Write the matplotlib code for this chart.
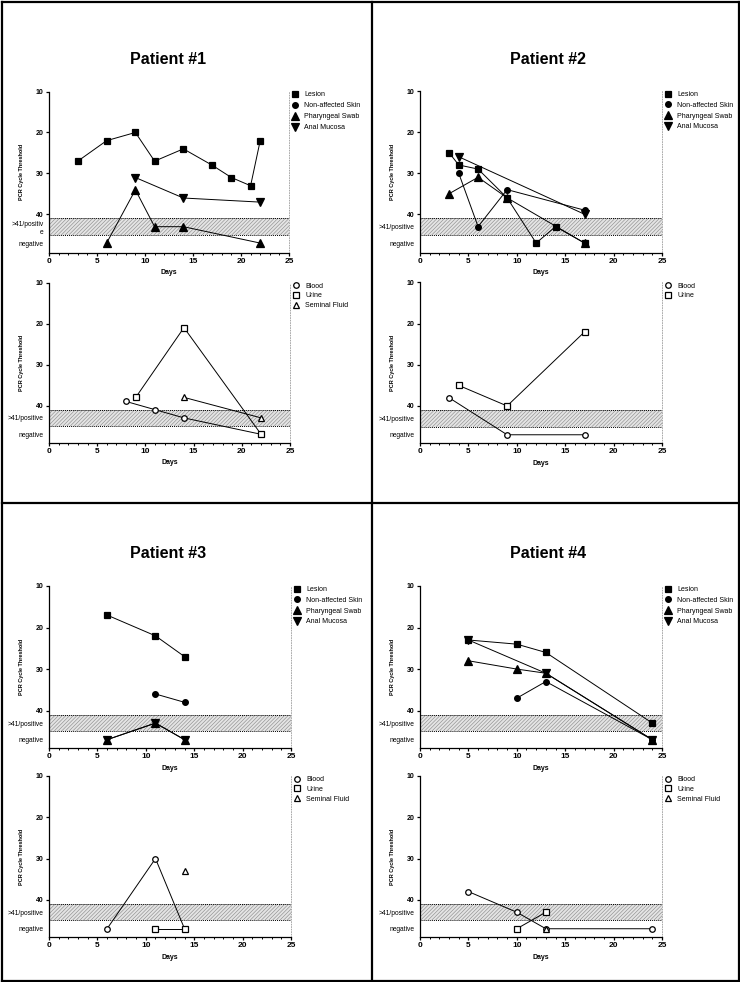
import matplotlib.pyplot as plt
from matplotlib.lines import Line2D

plt.rcParams['font.family'] = ['Liberation Sans', 'DejaVu Sans']
plt.rcParams['hatch.linewidth'] = 0.45

W, H = 740, 982

# Ct values per sample type as (days, Ct); 43 = ">41/positive", 47 = "negative"
p1_swab = {
    'Lesion': ([3, 6, 9, 11, 14, 17, 19, 21, 22], [27, 22, 20, 27, 24, 28, 31, 33, 22]),
    'Non-affected Skin': ([], []),
    'Pharyngeal Swab': ([6, 9, 11, 14, 22], [47, 34, 43, 43, 47]),
    'Anal Mucosa': ([9, 14, 22], [31, 36, 37]),
}
p1_fluid = {
    'Blood': ([8, 11, 14, 22], [39, 41, 43, 47]),
    'Urine': ([9, 14, 22], [38, 21, 47]),
    'Seminal Fluid': ([14, 22], [38, 43]),
}
p2_swab = {
    'Lesion': ([3, 4, 6, 9, 12, 14, 17], [25, 28, 29, 36, 47, 43, 47]),
    'Non-affected Skin': ([4, 6, 9, 17], [30, 43, 34, 39]),
    'Pharyngeal Swab': ([3, 6, 9, 17], [35, 31, 36, 47]),
    'Anal Mucosa': ([4, 17], [26, 40]),
}
p2_fluid = {
    'Blood': ([3, 9, 17], [38, 47, 47]),
    'Urine': ([4, 9, 17], [35, 40, 22]),
}
p3_swab = {
    'Lesion': ([6, 11, 14], [17, 22, 27]),
    'Non-affected Skin': ([11, 14], [36, 38]),
    'Pharyngeal Swab': ([6, 11, 14], [47, 43, 47]),
    'Anal Mucosa': ([6, 11, 14], [47, 43, 47]),
}
p3_fluid = {
    'Blood': ([6, 11, 14], [47, 30, 47]),
    'Urine': ([11, 14], [47, 47]),
    'Seminal Fluid': ([14], [33]),
}
p4_swab = {
    'Lesion': ([5, 10, 13, 24], [23, 24, 26, 43]),
    'Non-affected Skin': ([10, 13, 24], [37, 33, 47]),
    'Pharyngeal Swab': ([5, 10, 13, 24], [28, 30, 31, 47]),
    'Anal Mucosa': ([5, 13, 24], [23, 31, 47]),
}
p4_fluid = {
    'Blood': ([5, 10, 13, 24], [38, 43, 47, 47]),
    'Urine': ([10, 13], [47, 43]),
    'Seminal Fluid': ([13], [47]),
}

ytick_vals = [10, 20, 30, 40, 43, 47]
ytick_text = ['10', '20', '30', '40', '>41/positive', 'negative']
band = (41, 45)

markers = {
    'Lesion': ('s', 4.7, True),
    'Non-affected Skin': ('o', 4.1, True),
    'Pharyngeal Swab': ('^', 5.4, True),
    'Anal Mucosa': ('v', 5.4, True),
    'Blood': ('o', 4.0, False),
    'Urine': ('s', 4.2, False),
    'Seminal Fluid': ('^', 4.0, False),
}


def add_px_axes(fig, x0, y0, x1, y1):
    return fig.add_axes([x0 / W, 1 - y1 / H, (x1 - x0) / W, (y1 - y0) / H])


def draw_panel(ax, data, pos_label, ymax, spacing):
    ax.axhspan(band[0], band[1], facecolor='#e4e4e4', edgecolor='#8f8f8f',
               hatch='/////////', linewidth=0, zorder=0)
    for yb in band:
        ax.axhline(yb, color='black', lw=0.7, ls=(0, (1, 1)), zorder=1)

    for name, (days, ct) in data.items():
        m, ms, filled = markers[name]
        ax.plot(days, ct, color='black', lw=0.7, marker=m, ms=ms,
                mfc='black' if filled else 'white', mec='black',
                mew=0.9, label=name, zorder=3, clip_on=False)

    ax.set_xlim(0, 25)
    ax.set_ylim(ymax, 10)
    ax.set_xticks(range(0, 26, 5))
    ax.set_xticks(range(0, 26), minor=True)
    ax.set_yticks(ytick_vals)
    labels = list(ytick_text)
    labels[4] = pos_label
    ax.set_yticklabels(labels)
    for i, lab in enumerate(ax.get_yticklabels()):
        if i < 4:
            lab.set_fontweight('bold')
            lab.set_fontsize(5)
        else:
            lab.set_fontsize(4.8)
    for t in ax.yaxis.get_major_ticks()[4:]:
        t.tick1line.set_visible(False)
    for lab in ax.get_xticklabels():
        lab.set_fontweight('bold')
        lab.set_fontsize(6)

    ax.tick_params(which='major', length=2.4, width=0.9, pad=1.5)
    ax.tick_params(which='minor', length=1.4, width=0.7)
    ax.tick_params(axis='y', which='minor', left=False)
    ax.spines['top'].set_visible(False)
    ax.spines['left'].set_linewidth(0.9)
    ax.spines['bottom'].set_linewidth(0.9)
    ax.spines['right'].set_linestyle((0, (1, 2)))
    ax.spines['right'].set_color('#9a9a9a')
    ax.spines['right'].set_linewidth(0.6)

    ax.set_xlabel('Days', fontsize=5, fontweight='bold', labelpad=3)
    ax.set_ylabel('PCR Cycle Threshold', fontsize=4, fontweight='bold')
    ax.yaxis.set_label_coords(-0.105, 0.5)

    leg = ax.legend(loc='upper left', bbox_to_anchor=(1.012, 1.0), frameon=False,
                    fontsize=5, borderpad=0, borderaxespad=0, handlelength=1.0,
                    handletextpad=0.8, labelspacing=spacing)
    for h in leg.legend_handles:
        h.set_linestyle('None')


fig = plt.figure(figsize=(W / 100, H / 100), dpi=100)

panels = [
    (p1_swab, (49, 91.5, 289, 252.5), '>41/positiv\ne', 49.3, 0.55),
    (p1_fluid, (49, 282.5, 290, 442.5), '>41/positive', 49.0, 0.4),
    (p2_swab, (420, 91, 662, 252.5), '>41/positive', 49.3, 0.55),
    (p2_fluid, (420, 282.5, 662, 443), '>41/positive', 49.0, 0.4),
    (p3_swab, (49, 586, 291, 748), '>41/positive', 49.0, 0.55),
    (p3_fluid, (49, 776, 291, 937), '>41/positive', 49.0, 0.4),
    (p4_swab, (420, 586, 662, 748), '>41/positive', 49.0, 0.55),
    (p4_fluid, (420, 776, 662, 937), '>41/positive', 49.0, 0.4),
]
for data, rect, pos_label, ymax, spacing in panels:
    ax = add_px_axes(fig, *rect)
    draw_panel(ax, data, pos_label, ymax, spacing)

titles = [('Patient #1', 168, 60), ('Patient #2', 548, 60),
          ('Patient #3', 168, 553), ('Patient #4', 548, 553)]
for txt, x, y in titles:
    fig.text(x / W, 1 - y / H, txt, ha='center', va='center',
             fontsize=11.5, fontweight='bold')

# panel frames
frame = [((1.5, 738.5), (1.5, 1.5)), ((1.5, 738.5), (980.5, 980.5)),
         ((1.5, 1.5), (1.5, 980.5)), ((738.5, 738.5), (1.5, 980.5)),
         ((372, 372), (1.5, 980.5)), ((1.5, 738.5), (503, 503))]
for xs, ys in frame:
    fig.add_artist(Line2D([x / W for x in xs], [1 - y / H for y in ys],
                          color='black', lw=1.6, transform=fig.transFigure))

fig.savefig('out.png', dpi=100)
